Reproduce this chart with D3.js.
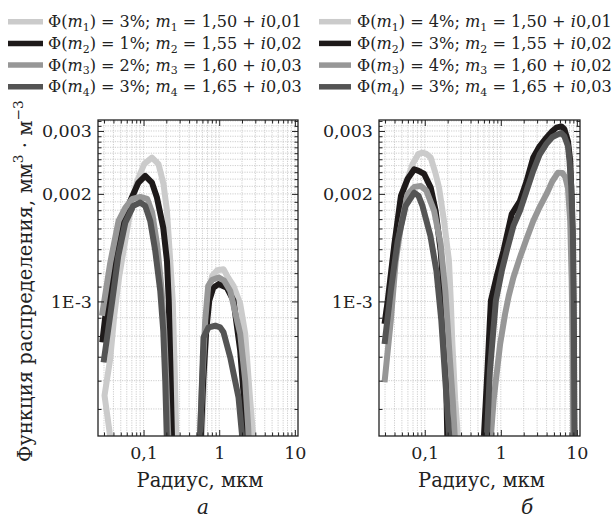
<!DOCTYPE html>
<html><head><meta charset="utf-8">
<script src="https://cdn.jsdelivr.net/npm/d3@7/dist/d3.min.js"></script>
<style>html,body{margin:0;padding:0;background:#fff}svg{display:block}</style>
</head><body>
<script>
// ---------- data (radius, мкм ; distribution value, мм^3·м^-3) ----------
// panel а
const a1_r = [0.0386,0.0305,0.0363,0.0410,0.0478,0.0573,0.0688,0.0826,0.1021,0.1291,0.1578,0.1837,0.2038,0.2253,0.2430,0.2583,0.2704,0.2746, 0.578,0.6241,0.6733,0.7266,0.808,0.941,1.140,1.315,1.545,1.894,2.206,2.568,2.813,2.900];
const a1_v = [0.00038,0.000545,0.000692,0.000912,0.00118,0.001478,0.001851,0.002174,0.002426,0.002527,0.002422,0.002128,0.001793,0.0013,0.001005,0.00064,0.00042,0.00036, 0.00038,0.000563,0.000828,0.001071,0.00118,0.001222,0.00123,0.001165,0.001106,0.000985,0.000812,0.000528,0.00042,0.00038];
const a2_r = [0.02847,0.0342,0.04227,0.05233,0.0667,0.0851,0.1053,0.1291,0.1503,0.1821,0.2038,0.2153,0.2253,0.2373,0.2430, 0.561,0.6146,0.6733,0.739,0.8331,0.979,1.264,1.545,1.894,2.322,2.416];
const a2_v = [0.000768,0.001071,0.001386,0.00166,0.00191,0.002146,0.002245,0.00215,0.001953,0.001609,0.0013,0.001005,0.000683,0.00042,0.00036, 0.00038,0.0006,0.000828,0.001005,0.001092,0.001118,0.001092,0.001005,0.000728,0.00042,0.00037];
const a3_r = [0.02822,0.0363,0.04674,0.0573,0.0709,0.0904,0.1119,0.1303,0.1517,0.1713,0.1877,0.1995,0.212,0.2186, 0.5445,0.5962,0.6533,0.7156,0.8081,0.979,1.164,1.397,1.894,2.206,2.416,2.490];
const a3_v = [0.000912,0.001283,0.00168,0.001828,0.001936,0.001961,0.001936,0.00177,0.001431,0.001106,0.000828,0.0006,0.00042,0.00036, 0.00038,0.0006,0.000883,0.001106,0.00115,0.001167,0.001143,0.001071,0.000812,0.0006,0.000444,0.00038];
const a4_r = [0.02962,0.0386,0.04632,0.0573,0.0731,0.0904,0.1053,0.1226,0.1427,0.1662,0.1821,0.1935,0.2025,0.2056, 0.528,0.561,0.6203,0.7224,0.8855,1.031,1.140,1.397,1.799,1.995,2.044];
const a4_v = [0.000675,0.001005,0.001342,0.00166,0.001851,0.001891,0.001851,0.00168,0.001386,0.001071,0.000828,0.0006,0.00042,0.00036, 0.00036,0.000427,0.000793,0.000846,0.000855,0.000846,0.00082,0.000698,0.000539,0.000427,0.00037];
// panel б
const b1_r = [0.03073,0.0399,0.04864,0.05948,0.06913,0.08279,0.09333,0.1052,0.1197,0.1379,0.1541,0.179,0.208,0.2197,0.2297,0.2514,0.2726,0.2835];
const b1_v = [0.000912,0.001431,0.001961,0.002203,0.002426,0.002588,0.002609,0.002588,0.002527,0.00229,0.002082,0.00168,0.0013,0.001005,0.000777,0.000528,0.00042,0.00037];
const b2_r = [0.02956,0.03264,0.0399,0.04864,0.05948,0.07275,0.08279,0.09822,0.1197,0.1391,0.1617,0.179,0.1889,0.1977,0.2007, 0.574,0.6004,0.6668,0.7406,0.8867,1.0844,1.391,1.784,2.183,2.669,3.254,3.979,4.764,5.37,6.243,6.831,7.634,8.176,8.555,8.867,9.085,9.221,9.306];
const b2_v = [0.000865,0.001005,0.00145,0.001974,0.002203,0.002344,0.00232,0.002274,0.002082,0.001793,0.001386,0.001026,0.000683,0.00042,0.00037, 0.00037,0.00042,0.00064,0.001005,0.00118,0.001386,0.001755,0.00191,0.00217,0.002527,0.002723,0.002873,0.003,0.003064,0.00309,0.00304,0.002812,0.002473,0.00191,0.0013,0.000728,0.00042,0.00037];
const b3_r = [0.02956,0.03572,0.0415,0.04864,0.05948,0.07275,0.08867,0.1052,0.1326,0.1617,0.1862,0.2099,0.2332,0.2476,0.2551, 0.7079,0.7406,0.8034,0.9792,1.138,1.272,1.464,1.784,2.183,2.669,3.254,3.979,4.764,5.653,6.430,7.037,7.634,8.176,8.555,8.814,8.949,8.99];
const b3_v = [0.000594,0.000883,0.0013,0.001627,0.001996,0.002092,0.002105,0.00204,0.001793,0.00145,0.001071,0.000728,0.000528,0.00042,0.00037, 0.00037,0.00042,0.000528,0.00076,0.000922,0.001037,0.001167,0.001328,0.001497,0.00168,0.00184,0.001996,0.00217,0.002293,0.00229,0.002231,0.002082,0.00168,0.001143,0.000728,0.00042,0.00037];
const b4_r = [0.02956,0.03572,0.04406,0.05603,0.07275,0.08279,0.09333,0.1187,0.1421,0.1651,0.1862,0.2099,0.2163, 0.6186,0.657,0.719,0.8609,1.030,1.198,1.464,1.784,2.183,2.669,3.254,3.979,4.764,5.653,6.243,6.831,7.634,8.009,8.428,8.867,9.085,9.221,9.306,9.361];
const b4_v = [0.00076,0.001071,0.001478,0.001851,0.002016,0.001974,0.001851,0.001525,0.001218,0.000883,0.0006,0.00042,0.00037, 0.00037,0.00042,0.00064,0.001005,0.001218,0.001386,0.001627,0.001793,0.00204,0.00232,0.002582,0.00276,0.002886,0.002938,0.00296,0.002904,0.002723,0.002473,0.002105,0.001575,0.001005,0.0006,0.00042,0.00037];

// legends
const legendA_phi = ["3%","1%","2%","3%"];
const legendB_phi = ["4%","3%","4%","3%"];
const legend_re   = ["1,50","1,55","1,60","1,65"];
const legendA_im  = ["0,01","0,02","0,03","0,03"];
const legendB_im  = ["0,01","0,02","0,02","0,03"];

// ticks
const xTickValues = [0.1,1,10];
const xTickLabels = ["0,1","1","10"];
const yTickValues = [0.001,0.002,0.003];
const yTickLabels = ["1E-3","0,002","0,003"];
const xMinorTicks = [0.03,0.04,0.05,0.06,0.07,0.08,0.09,0.2,0.3,0.4,0.5,0.6,0.7,0.8,0.9,2,3,4,5,6,7,8,9];
const yMinorTicks = [0.0005,0.0006,0.0007,0.0008,0.0009,0.0011,0.0012,0.0013,0.0014,0.0015,0.0016,0.0017,0.0018,0.0019,0.0021,0.0022,0.0023,0.0024,0.0025,0.0026,0.0027,0.0028,0.0029,0.0031,0.0032];

const panelLetters = ["а","б"];
const xTitle = "Радиус, мкм";

// ---------- drawing ----------
const FONT = "'DejaVu Serif', serif";
const colors = ["#cbcbcb","#1e1a1a","#979797","#545454"];
const W = 614, H = 519;
const svg = d3.select("body").append("svg").attr("width", W).attr("height", H);

const TOP = 120, BOTTOM = 436;
const panelRanges = [[98, 298], [379, 580]];
const xDomain = [0.025, 11], yDomain = [0.00042, 0.00322];
const panelData = [
  [[a1_r,a1_v],[a2_r,a2_v],[a3_r,a3_v],[a4_r,a4_v]],
  [[b1_r,b1_v],[b2_r,b2_v],[b3_r,b3_v],[b4_r,b4_v]]
];

function fitFont(textSel, target, base) {
  textSel.attr("font-size", base);
  const w = textSel.node().getComputedTextLength();
  if (w > 0) textSel.attr("font-size", base * target / w);
}

panelRanges.forEach((pr, pi) => {
  const x = d3.scaleLog().domain(xDomain).range(pr);
  const y = d3.scaleLog().domain(yDomain).range([BOTTOM, TOP]);
  const g = svg.append("g");
  const cid = "clip" + pi;
  svg.append("clipPath").attr("id", cid).append("rect")
    .attr("x", pr[0]).attr("y", TOP).attr("width", pr[1] - pr[0]).attr("height", BOTTOM - TOP);

  // grid
  const grid = g.append("g").attr("stroke", "#c2c2c2").attr("stroke-width", 0.8).attr("stroke-dasharray", "1.2,1.2");
  grid.selectAll("line.vx").data(xMinorTicks.concat(xTickValues)).join("line").attr("class","vx")
    .attr("x1", d => x(d)).attr("x2", d => x(d)).attr("y1", TOP).attr("y2", BOTTOM);
  grid.selectAll("line.hy").data(yMinorTicks.concat(yTickValues)).join("line").attr("class","hy")
    .attr("y1", d => y(d)).attr("y2", d => y(d)).attr("x1", pr[0]).attr("x2", pr[1]);

  // series
  const line = d3.line().x(d => x(d[0])).y(d => y(d[1]));
  const sg = g.append("g").attr("clip-path", `url(#${cid})`);
  panelData[pi].forEach((s, i) => {
    sg.append("path").datum(d3.zip(s[0], s[1])).attr("d", line)
      .attr("fill", "none").attr("stroke", colors[i]).attr("stroke-width", 6)
      .attr("stroke-linejoin", "round");
  });

  // axes (ticks inward)
  const styleAxis = sel => {
    sel.select(".domain").remove();
    sel.selectAll(".tick line").attr("stroke", "#222").attr("stroke-width", 1);
    sel.selectAll("text").attr("font-family", FONT).attr("font-size", 17.5).attr("fill", "#222");
  };
  g.append("g").attr("transform", `translate(0,${BOTTOM})`)
    .call(d3.axisBottom(x).tickValues(xTickValues).tickSize(-6).tickPadding(11).tickFormat((d, i) => xTickLabels[i])).call(styleAxis);
  g.append("g").attr("transform", `translate(0,${BOTTOM})`)
    .call(d3.axisBottom(x).tickValues(xMinorTicks).tickSize(-3.5).tickFormat("")).call(styleAxis);
  g.append("g").attr("transform", `translate(0,${TOP})`)
    .call(d3.axisTop(x).tickValues(xTickValues).tickSize(-6).tickFormat("")).call(styleAxis);
  g.append("g").attr("transform", `translate(0,${TOP})`)
    .call(d3.axisTop(x).tickValues(xMinorTicks).tickSize(-3.5).tickFormat("")).call(styleAxis);
  g.append("g").attr("transform", `translate(${pr[0]},0)`)
    .call(d3.axisLeft(y).tickValues(yTickValues).tickSize(-6).tickPadding(6).tickFormat((d, i) => yTickLabels[i])).call(styleAxis);
  g.append("g").attr("transform", `translate(${pr[0]},0)`)
    .call(d3.axisLeft(y).tickValues(yMinorTicks).tickSize(-3.5).tickFormat("")).call(styleAxis);
  g.append("g").attr("transform", `translate(${pr[1]},0)`)
    .call(d3.axisRight(y).tickValues(yTickValues).tickSize(-6).tickFormat("")).call(styleAxis);
  g.append("g").attr("transform", `translate(${pr[1]},0)`)
    .call(d3.axisRight(y).tickValues(yMinorTicks).tickSize(-3.5).tickFormat("")).call(styleAxis);

  // frame
  g.append("rect").attr("x", pr[0]).attr("y", TOP).attr("width", pr[1] - pr[0]).attr("height", BOTTOM - TOP)
    .attr("fill", "none").attr("stroke", "#222").attr("stroke-width", 1.3);

  // x title
  const cx = (pr[0] + pr[1]) / 2 + 2;
  const xt = g.append("text").attr("x", cx).attr("y", 487).attr("text-anchor", "middle")
    .attr("font-family", FONT).attr("fill", "#222").text(xTitle);
  fitFont(xt, 127, 18);

  // panel letter
  g.append("text").attr("x", pi === 0 ? 203 : 527).attr("y", 514).attr("text-anchor", "middle")
    .attr("font-family", FONT).attr("font-style", "italic").attr("font-size", 20).attr("fill", "#222")
    .text(panelLetters[pi]);
});

// legends
const legendBlocks = [
  {x0: 8, x1: 43, tx: 48, phi: legendA_phi, im: legendA_im, width: 254},
  {x0: 319, x1: 351, tx: 357, phi: legendB_phi, im: legendB_im, width: 255}
];
const rowsY = [21.7, 43.4, 65.1, 86.8];
legendBlocks.forEach(b => {
  const lg = svg.append("g");
  b.phi.forEach((p, i) => {
    const yy = rowsY[i];
    lg.append("line").attr("x1", b.x0).attr("x2", b.x1).attr("y1", yy).attr("y2", yy)
      .attr("stroke", colors[i]).attr("stroke-width", 5.5);
    const t = lg.append("text").attr("x", b.tx).attr("y", yy + 5.5)
      .attr("font-family", FONT).attr("fill", "#222");
    const n = String(i + 1);
    t.append("tspan").text("Φ(");
    t.append("tspan").attr("font-style", "italic").text("m");
    t.append("tspan").attr("font-size", "0.68em").attr("dy", "0.35em").text(n);
    t.append("tspan").attr("dy", "-0.24em").text(") = " + p + "; ");
    t.append("tspan").attr("font-style", "italic").text("m");
    t.append("tspan").attr("font-size", "0.68em").attr("dy", "0.35em").text(n);
    t.append("tspan").attr("dy", "-0.24em").text(" = " + legend_re[i] + " + ");
    t.append("tspan").attr("font-style", "italic").text("i");
    t.append("tspan").text(b.im[i]);
    fitFont(t, b.width, 16);
  });
});

// y title
const yt = svg.append("text").attr("transform", "translate(31.5,462) rotate(-90)")
  .attr("text-anchor", "start").attr("font-family", FONT).attr("fill", "#222");
yt.append("tspan").text("Функция распределения, мм");
yt.append("tspan").attr("font-size", "0.7em").attr("dy", "-0.6em").text("3");
yt.append("tspan").attr("dy", "0.42em").text(" · м");
yt.append("tspan").attr("font-size", "0.7em").attr("dy", "-0.6em").text("−3");
fitFont(yt, 362, 19);
</script>
</body></html>
